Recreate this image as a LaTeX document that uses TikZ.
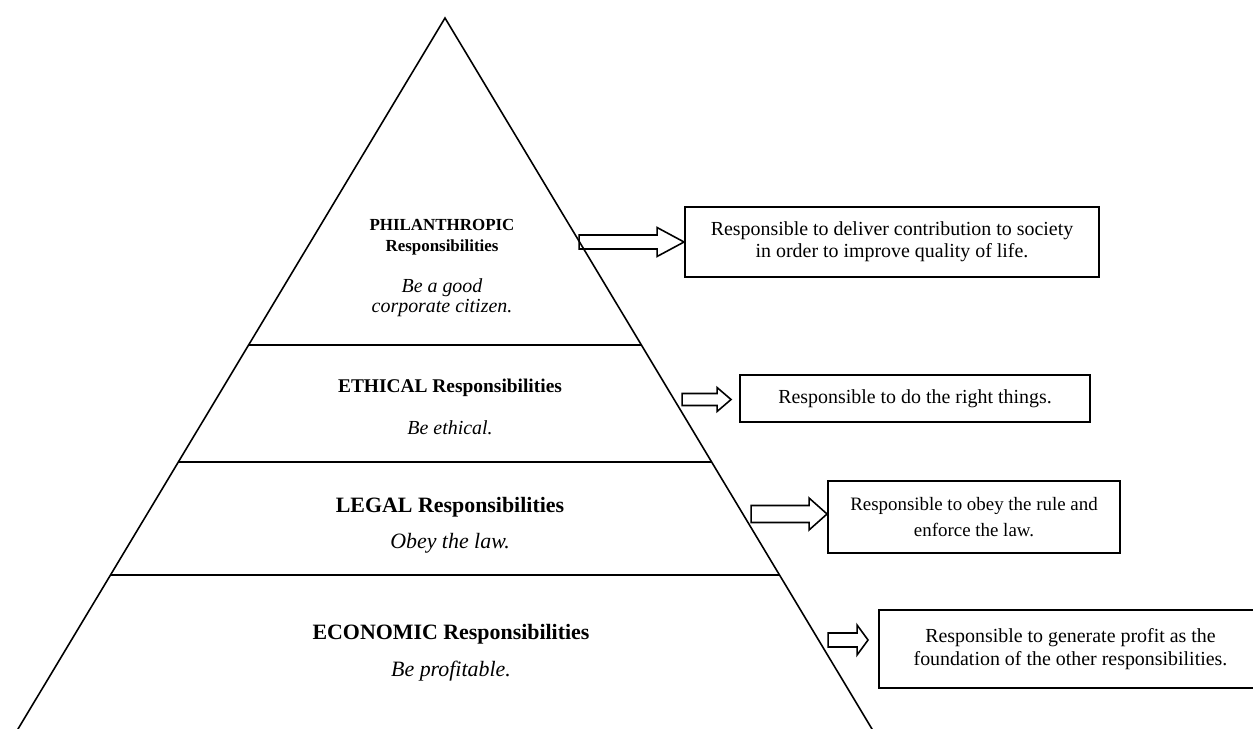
\documentclass[tikz,border=0pt]{standalone}
\usepackage{fontspec}
\setmainfont{Liberation Serif}
\usetikzlibrary{calc}
% one drawing unit = 0.02cm
\newcommand{\pxu}{0.02cm}
\newcommand{\fsz}[2]{\fontsize{#1pt}{#2pt}\selectfont}
\begin{document}
\begin{tikzpicture}[x=0.02cm,y=-0.02cm,
  side/.style={line width=0.9pt},
  tier/.style={line width=1.4pt},
  rbox/.style={draw, line width=1.1pt, align=center, inner sep=0pt},
  blockarr/.style={draw, line width=0.9pt, line join=miter},
  head/.style={inner sep=0pt, align=center},
  motto/.style={inner sep=0pt, align=center}]
\useasboundingbox (0,0) rectangle (1253,729);
\clip (0,0) rectangle (1253,729);

% pyramid outline
\coordinate (A) at (445,18);
\coordinate (BL) at (18,729);
\coordinate (BR) at (872,729);
\draw[side] ($(A)!1.03!(BL)$) -- (A) -- ($(A)!1.03!(BR)$);

% tier separators
\foreach \t in {0.4599,0.6245,0.7834}
  \draw[tier] ($(A)!\t!(BL)$) -- ($(A)!\t!(BR)$);

% tier labels
\node[head, font=\bfseries\fsz{9.64}{11.9}] (philA) at (442,237) {PHILANTHROPIC\\Responsibilities};
\node[motto, font=\itshape\fsz{11.34}{11.4}] (philB) at (442,298) {Be a good\\corporate citizen.};

\node[head, font=\bfseries\fsz{11.05}{12}] (ethA) at (450,388) {ETHICAL Responsibilities};
\node[motto, font=\itshape\fsz{11.34}{12}] (ethB) at (450,428) {Be ethical.};

\node[head, font=\bfseries\fsz{12.47}{13}] (legA) at (450,507) {LEGAL Responsibilities};
\node[motto, font=\itshape\fsz{12.47}{13}] (legB) at (450,543) {Obey the law.};

\node[head, font=\bfseries\fsz{12.47}{13}] (ecoA) at (451,634) {ECONOMIC Responsibilities};
\node[motto, font=\itshape\fsz{12.47}{13}] (ecoB) at (451,671) {Be profitable.};

% description boxes
\node[rbox, minimum width=414*\pxu, minimum height=70*\pxu, font=\fsz{11.34}{12.5}] (box1) at (892,242)
  {Responsible to deliver contribution to society\\in order to improve quality of life.};
\node[rbox, minimum width=350*\pxu, minimum height=47*\pxu, font=\fsz{11.34}{12.5}] (box2) at (915,398.5)
  {Responsible to do the right things.};
\node[rbox, minimum width=292*\pxu, minimum height=72*\pxu, font=\fsz{10.77}{14.7}] (box3) at (974,517)
  {Responsible to obey the rule and\\enforce the law.};
\node[rbox, minimum width=383*\pxu, minimum height=78*\pxu, font=\fsz{11.34}{13}] (box4) at (1070.5,649)
  {Responsible to generate profit as the\\foundation of the other responsibilities.};

% block arrows pointing at the boxes
\coordinate (t1) at (box1.west);
\coordinate (t2) at ($(box2.west)+(-8,1)$);
\coordinate (t3) at ($(box3.west)+(0,-3)$);
\coordinate (t4) at ($(box4.west)+(-10,-9)$);
\draw[blockarr] (t1) -- ++(-27,-14.5) -- ++(0,7.5) -- ++(-78,0) -- ++(0,14) -- ++(78,0) -- ++(0,7.5) -- cycle;
\draw[blockarr] (t2) -- ++(-14,-12) -- ++(0,6) -- ++(-35,0) -- ++(0,12) -- ++(35,0) -- ++(0,6) -- cycle;
\draw[blockarr] (t3) -- ++(-18,-16) -- ++(0,7.5) -- ++(-58,0) -- ++(0,17) -- ++(58,0) -- ++(0,7.5) -- cycle;
\draw[blockarr] (t4) -- ++(-11,-15) -- ++(0,8) -- ++(-29,0) -- ++(0,14) -- ++(29,0) -- ++(0,8) -- cycle;
\end{tikzpicture}
\end{document}
